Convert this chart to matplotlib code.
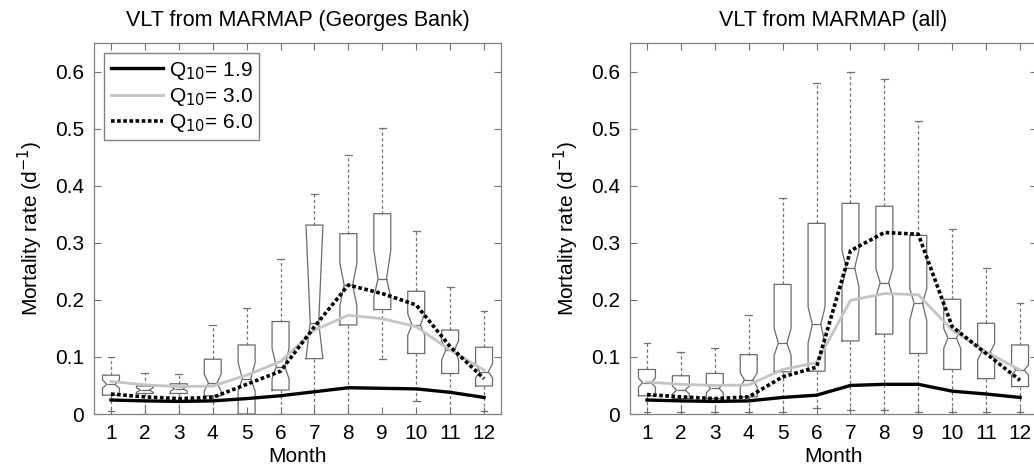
import matplotlib
matplotlib.use("Agg")
import matplotlib.pyplot as plt

plt.rcParams['font.family'] = ['Liberation Sans', 'DejaVu Sans']

months = list(range(1, 13))
month_labels = [str(m) for m in months]
yticks = [0, 0.1, 0.2, 0.3, 0.4, 0.5, 0.6]
ytick_labels = ['0', '0.1', '0.2', '0.3', '0.4', '0.5', '0.6']

# Georges Bank boxplot stats
gb_hi = [0.100, 0.072, 0.070, 0.156, 0.186, 0.272, 0.386, 0.453, 0.501, 0.320, 0.223, 0.181]
gb_q3 = [0.068, 0.049, 0.053, 0.096, 0.121, 0.162, 0.331, 0.316, 0.351, 0.215, 0.147, 0.117]
gb_med = [0.052, 0.042, 0.044, 0.054, 0.062, 0.083, 0.160, 0.226, 0.237, 0.156, 0.112, 0.074]
gb_q1 = [0.033, 0.036, 0.036, 0.032, 0.000, 0.042, 0.097, 0.156, 0.183, 0.106, 0.071, 0.049]
gb_lo = [0.005, 0.000, 0.000, 0.000, 0.000, 0.000, 0.000, 0.000, 0.097, 0.022, 0.000, 0.005]
gb_cilo = [0.045, 0.038, 0.040, 0.040, 0.040, 0.062, 0.097, 0.190, 0.205, 0.138, 0.095, 0.063]
gb_cihi = [0.060, 0.046, 0.049, 0.070, 0.090, 0.115, 0.331, 0.264, 0.287, 0.176, 0.128, 0.088]

gb_q19 = [0.0245, 0.023, 0.022, 0.023, 0.027, 0.032, 0.039, 0.046, 0.045, 0.044, 0.038, 0.029]
gb_q30 = [0.057, 0.051, 0.048, 0.049, 0.068, 0.092, 0.147, 0.173, 0.167, 0.153, 0.112, 0.077]
gb_q60 = [0.035, 0.030, 0.027, 0.029, 0.052, 0.075, 0.153, 0.226, 0.211, 0.191, 0.118, 0.062]

# All-region boxplot stats
all_hi = [0.125, 0.108, 0.115, 0.174, 0.379, 0.580, 0.600, 0.587, 0.513, 0.324, 0.255, 0.194]
all_q3 = [0.078, 0.067, 0.071, 0.104, 0.227, 0.334, 0.369, 0.364, 0.313, 0.201, 0.159, 0.121]
all_med = [0.055, 0.042, 0.045, 0.060, 0.124, 0.157, 0.256, 0.230, 0.194, 0.133, 0.109, 0.077]
all_q1 = [0.032, 0.027, 0.027, 0.030, 0.074, 0.075, 0.128, 0.140, 0.106, 0.078, 0.062, 0.048]
all_lo = [0.003, 0.003, 0.003, 0.003, 0.003, 0.010, 0.007, 0.007, 0.003, 0.003, 0.003, 0.003]
all_cilo = [0.047, 0.035, 0.037, 0.047, 0.103, 0.124, 0.223, 0.205, 0.164, 0.115, 0.095, 0.068]
all_cihi = [0.063, 0.049, 0.053, 0.072, 0.150, 0.188, 0.287, 0.255, 0.220, 0.150, 0.123, 0.086]

all_q19 = [0.0245, 0.023, 0.022, 0.023, 0.029, 0.033, 0.050, 0.052, 0.052, 0.040, 0.035, 0.029]
all_q30 = [0.056, 0.052, 0.050, 0.051, 0.078, 0.090, 0.199, 0.211, 0.209, 0.147, 0.109, 0.077]
all_q60 = [0.034, 0.030, 0.027, 0.030, 0.065, 0.082, 0.286, 0.318, 0.315, 0.153, 0.106, 0.059]

titles = ['VLT from MARMAP (Georges Bank)', 'VLT from MARMAP (all)']
legend_labels = ['Q$_{10}$= 1.9', 'Q$_{10}$= 3.0', 'Q$_{10}$= 6.0']

FS = 15
W, H = 1034, 469
fig = plt.figure(figsize=(W / 100, H / 100), dpi=100)
ax1 = fig.add_axes([94 / W, (H - 414) / H, 407 / W, 371 / H])
ax2 = fig.add_axes([630 / W, (H - 414) / H, 407 / W, 371 / H])

box_col = '#6a6a6a'
panels = [
    (ax1, gb_lo, gb_q1, gb_med, gb_q3, gb_hi, gb_cilo, gb_cihi, gb_q19, gb_q30, gb_q60),
    (ax2, all_lo, all_q1, all_med, all_q3, all_hi, all_cilo, all_cihi, all_q19, all_q30, all_q60),
]

for i, (ax, lo, q1, med, q3, hi, cilo, cihi, l19, l30, l60) in enumerate(panels):
    stats = []
    for k in range(12):
        stats.append(dict(whislo=lo[k], q1=q1[k], med=med[k], q3=q3[k], whishi=hi[k],
                          cilo=cilo[k], cihi=cihi[k], fliers=[]))
    ax.bxp(stats, positions=months, widths=0.5, shownotches=True, showfliers=False,
           capwidths=0.2,
           boxprops=dict(color=box_col, linewidth=0.9),
           medianprops=dict(color=box_col, linewidth=0.9),
           whiskerprops=dict(color='#707070', linewidth=0.9, linestyle=(0, (2.5, 2))),
           capprops=dict(color='#707070', linewidth=0.9))
    ax.plot(months, l19, color='black', linewidth=2.4, zorder=5, label=legend_labels[0])
    ax.plot(months, l30, color='#c4c4c4', linewidth=2.0, zorder=4, label=legend_labels[1])
    ax.plot(months, l60, color='black', linewidth=2.6, linestyle=(0, (1, 0.7)), zorder=6,
            label=legend_labels[2])
    ax.set_xlim(0.5, 12.5)
    ax.set_ylim(0, 0.65)
    ax.set_xticks(months)
    ax.set_xticklabels(month_labels, fontsize=FS)
    ax.set_yticks(yticks)
    ax.set_yticklabels(ytick_labels, fontsize=FS)
    ax.tick_params(direction='in', top=True, right=True, length=5, width=0.8,
                   color='#707070', pad=7)
    for sp in ax.spines.values():
        sp.set_color('#808080')
        sp.set_linewidth(0.9)
    ax.set_xlabel('Month', fontsize=FS, labelpad=3)
    ax.set_ylabel('Mortality rate (d$^{-1}$)', fontsize=FS, labelpad=7)
    ax.set_title(titles[i], fontsize=15.5, pad=12)

leg = ax1.legend(loc='upper left', fontsize=FS, frameon=True, fancybox=False,
                 handlelength=2.5, borderaxespad=0.5, borderpad=0.3,
                 labelspacing=0.2, handletextpad=0.3)
leg.get_frame().set_edgecolor('#606060')
leg.get_frame().set_linewidth(1.0)

fig.savefig('out.png', dpi=100)
